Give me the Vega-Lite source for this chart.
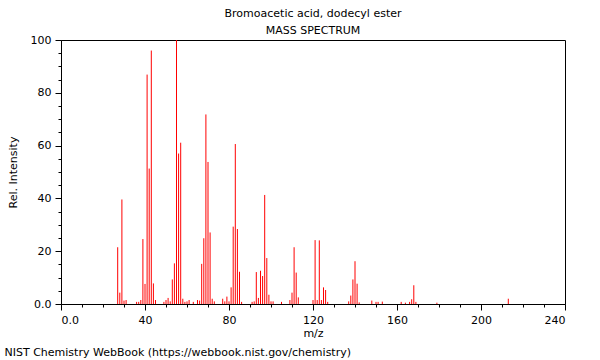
{
  "$schema": "https://vega.github.io/schema/vega-lite/v6.json",
  "padding": {"left": 4, "top": 7, "right": 5, "bottom": 0},
  "config": {
    "font": "DejaVu Sans",
    "view": {"stroke": "black", "strokeWidth": 1},
    "axis": {"grid": false, "domainColor": "black", "tickColor": "black", "labelColor": "black", "titleColor": "black", "labelFontSize": 11, "titleFontSize": 11, "titleFontWeight": "normal", "labelFont": "DejaVu Sans", "titleFont": "DejaVu Sans"}
  },
  "title": {"text": "NIST Chemistry WebBook (https://webbook.nist.gov/chemistry)", "orient": "bottom", "anchor": "start", "frame": "bounds", "fontSize": 11, "fontWeight": "normal", "font": "DejaVu Sans", "color": "black", "offset": 8, "dx": -2},
  "vconcat": [
    {
      "title": {"text": ["Bromoacetic acid, dodecyl ester", "MASS SPECTRUM"], "fontSize": 11, "fontWeight": "normal", "font": "DejaVu Sans", "color": "black", "lineHeight": 17, "offset": -2, "anchor": "middle"},
      "width": 504,
      "height": 264,
      "data": {"values": [
        {"mz": 27, "intensity": 21.5}, {"mz": 28, "intensity": 4.3}, {"mz": 29, "intensity": 39.6}, {"mz": 30, "intensity": 1.3}, {"mz": 31, "intensity": 1.5},
        {"mz": 36, "intensity": 0.8}, {"mz": 37, "intensity": 0.8}, {"mz": 38, "intensity": 1.5}, {"mz": 39, "intensity": 24.6}, {"mz": 40, "intensity": 7.6},
        {"mz": 41, "intensity": 86.9}, {"mz": 42, "intensity": 51.3}, {"mz": 43, "intensity": 96}, {"mz": 44, "intensity": 7.8}, {"mz": 45, "intensity": 1.5},
        {"mz": 49, "intensity": 0.8}, {"mz": 50, "intensity": 1.5}, {"mz": 51, "intensity": 2.3}, {"mz": 52, "intensity": 1}, {"mz": 53, "intensity": 9.3},
        {"mz": 54, "intensity": 15.4}, {"mz": 55, "intensity": 100}, {"mz": 56, "intensity": 57}, {"mz": 57, "intensity": 61.1}, {"mz": 58, "intensity": 2},
        {"mz": 59, "intensity": 0.8}, {"mz": 60, "intensity": 1}, {"mz": 61, "intensity": 1.5}, {"mz": 63, "intensity": 0.8}, {"mz": 65, "intensity": 1.5},
        {"mz": 66, "intensity": 1.3}, {"mz": 67, "intensity": 15.2}, {"mz": 68, "intensity": 24.9}, {"mz": 69, "intensity": 71.8}, {"mz": 70, "intensity": 53.8},
        {"mz": 71, "intensity": 27.1}, {"mz": 72, "intensity": 2}, {"mz": 73, "intensity": 1}, {"mz": 77, "intensity": 2}, {"mz": 78, "intensity": 1},
        {"mz": 79, "intensity": 2.8}, {"mz": 80, "intensity": 1}, {"mz": 81, "intensity": 6.3}, {"mz": 82, "intensity": 29.3}, {"mz": 83, "intensity": 60.6},
        {"mz": 84, "intensity": 28.4}, {"mz": 85, "intensity": 12.2}, {"mz": 86, "intensity": 0.8}, {"mz": 91, "intensity": 0.8}, {"mz": 92, "intensity": 1},
        {"mz": 93, "intensity": 12.1}, {"mz": 94, "intensity": 2.3}, {"mz": 95, "intensity": 12.6}, {"mz": 96, "intensity": 10.6}, {"mz": 97, "intensity": 41.3},
        {"mz": 98, "intensity": 17.4}, {"mz": 99, "intensity": 3.5}, {"mz": 100, "intensity": 1}, {"mz": 101, "intensity": 1}, {"mz": 105, "intensity": 0.8},
        {"mz": 109, "intensity": 1.5}, {"mz": 110, "intensity": 4.3}, {"mz": 111, "intensity": 21.5}, {"mz": 112, "intensity": 11.9}, {"mz": 113, "intensity": 2.5},
        {"mz": 120, "intensity": 1.5}, {"mz": 121, "intensity": 24.2}, {"mz": 122, "intensity": 1.5}, {"mz": 123, "intensity": 24.1}, {"mz": 124, "intensity": 1.5},
        {"mz": 125, "intensity": 6.3}, {"mz": 126, "intensity": 5.3}, {"mz": 127, "intensity": 0.8}, {"mz": 137, "intensity": 1}, {"mz": 138, "intensity": 3.2},
        {"mz": 139, "intensity": 9.3}, {"mz": 140, "intensity": 16.2}, {"mz": 141, "intensity": 7.7}, {"mz": 142, "intensity": 0.6}, {"mz": 148, "intensity": 1.3},
        {"mz": 150, "intensity": 0.8}, {"mz": 151, "intensity": 0.8}, {"mz": 153, "intensity": 0.9}, {"mz": 162, "intensity": 0.8}, {"mz": 164, "intensity": 0.5},
        {"mz": 166, "intensity": 0.8}, {"mz": 167, "intensity": 1.8}, {"mz": 168, "intensity": 7.1}, {"mz": 169, "intensity": 0.8}, {"mz": 179, "intensity": 0.5},
        {"mz": 213, "intensity": 2.0}
      ]},
      "mark": {"type": "rule", "color": "#ff0000", "strokeWidth": 1},
      "encoding": {
        "x": {
          "field": "mz", "type": "quantitative",
          "scale": {"domain": [0, 240], "nice": false, "zero": true},
          "axis": {
            "title": "m/z",
            "values": [0,10,20,30,40,50,60,70,80,90,100,110,120,130,140,150,160,170,180,190,200,210,220,230,240],
            "labelExpr": "datum.value === 0 ? '0.0' : (datum.value % 40 === 0 ? datum.label : '')",
            "tickSize": {"condition": {"test": "datum.value % 40 === 0", "value": 6}, "value": 3},
            "labelPadding": 4,
            "titlePadding": 2
          }
        },
        "y": {
          "field": "intensity", "type": "quantitative",
          "scale": {"domain": [0, 100], "nice": false},
          "axis": {
            "title": "Rel. Intensity",
            "values": [0,5,10,15,20,25,30,35,40,45,50,55,60,65,70,75,80,85,90,95,100],
            "labelExpr": "datum.value === 0 ? '0.0' : (datum.value % 20 === 0 ? datum.label : '')",
            "tickSize": {"condition": {"test": "datum.value % 20 === 0", "value": 6}, "value": 3},
            "labelPadding": 4,
            "titlePadding": 12
          }
        },
        "y2": {"datum": 0}
      }
    }
  ]
}
